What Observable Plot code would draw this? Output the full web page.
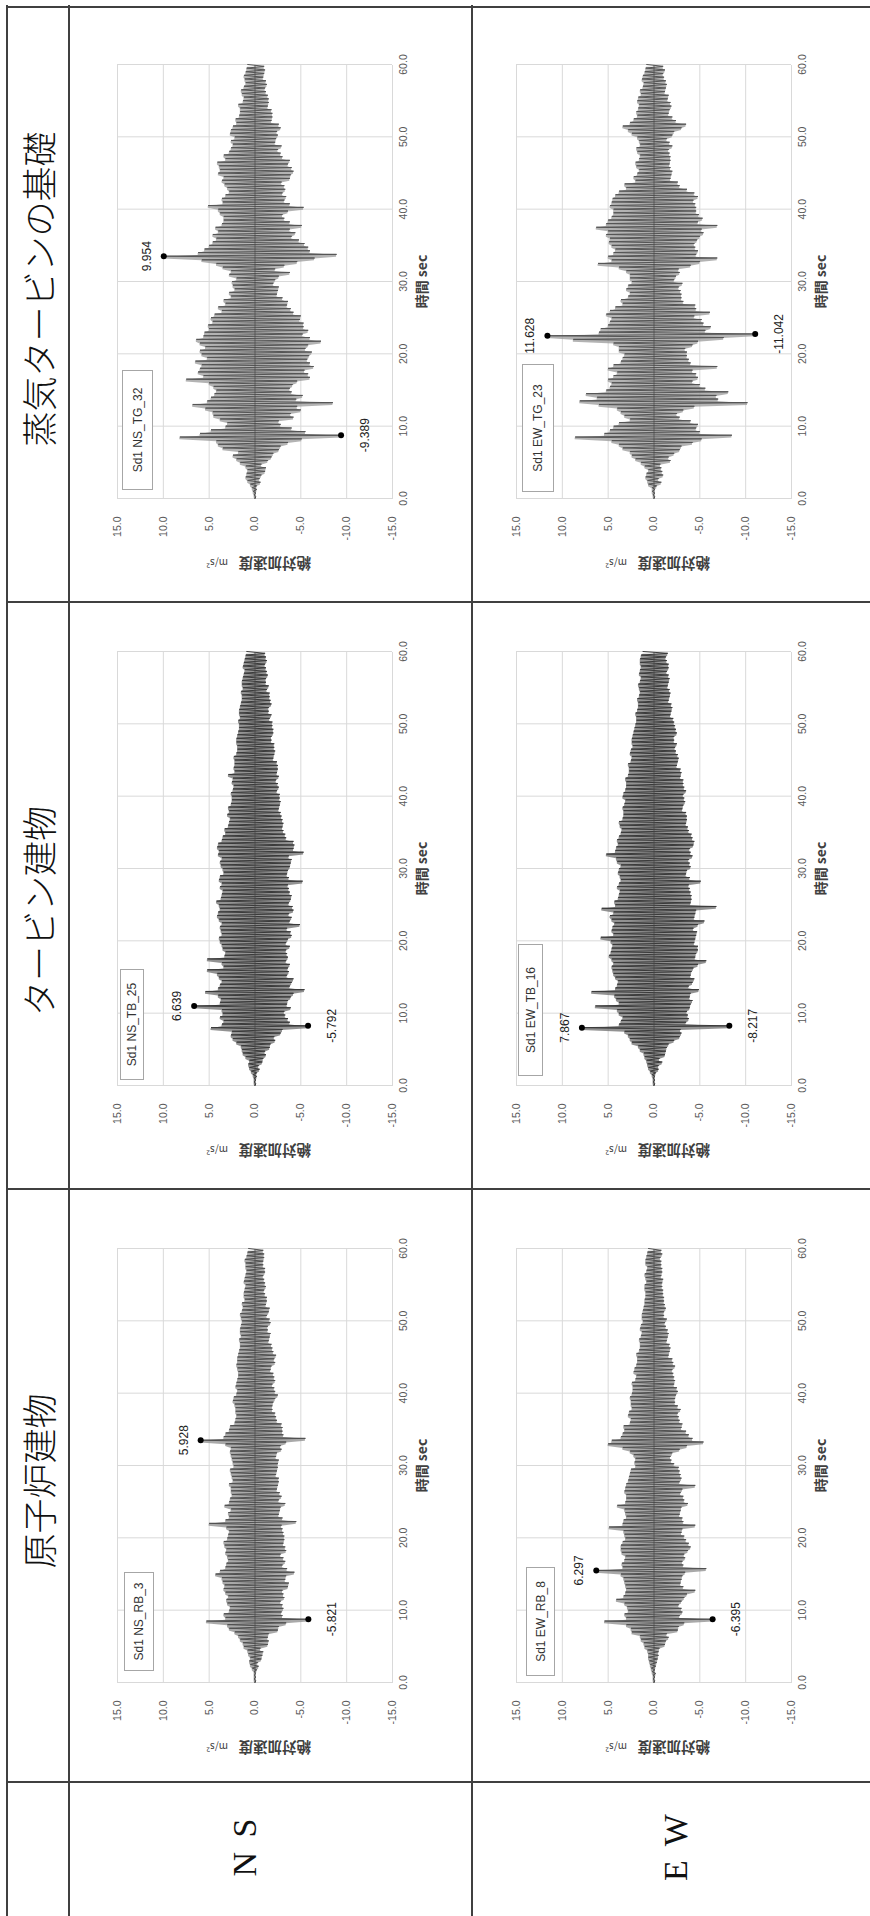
<!DOCTYPE html>
<html><head><meta charset="utf-8">
<script src="https://cdn.jsdelivr.net/npm/d3@7"></script>
<script src="https://cdn.jsdelivr.net/npm/@observablehq/plot@0.6"></script>
<style>
html,body{margin:0;padding:0;background:#fff;}
#page{position:relative;width:870px;height:1916px;overflow:hidden;background:#fff;}
#sheet{position:absolute;left:0;top:0;width:1916px;height:870px;transform-origin:0 0;transform:translate(0px,1916px) rotate(-90deg);}
.hl{position:absolute;height:2px;background:#404040;}
.vl{position:absolute;width:2px;background:#404040;}
.hdr{position:absolute;text-align:center;font-family:"Noto Sans CJK JP";font-weight:300;font-size:35px;color:#111;white-space:nowrap;}
.dir{position:absolute;text-align:center;font-family:"Liberation Serif";font-size:34px;letter-spacing:3px;color:#111;white-space:nowrap;}
.chart{position:absolute;}
.legend{position:absolute;box-sizing:border-box;border:1px solid #a6a6a6;background:#fff;font-family:"Liberation Sans","Noto Sans CJK JP";font-size:12px;color:#333;display:flex;align-items:center;justify-content:center;white-space:nowrap;}
</style></head>
<body>
<div id="page"><div id="sheet"></div></div>
<script>
// ---- data (sample interval 0.25 s, absolute acceleration m/s^2) ----
const DT = 0.25;
const timeTicks = [0, 10, 20, 30, 40, 50, 60];
const accTicks = [15, 10, 5, 0, -5, -10, -15];
const colHeaders = ["原子炉建物", "タービン建物", "蒸気タービンの基礎"];
const rowHeaders = ["N S", "E W"];
const seriesNames = ["Sd1 NS_TG_32", "Sd1 EW_TG_23", "Sd1 NS_TB_25", "Sd1 EW_TB_16", "Sd1 NS_RB_3", "Sd1 EW_RB_8"];

const nsTG = [0,-0.1,0.1,-0.1, 0.2,-0.2,0.3,-0.2, 0.5,-0.6,0.8,-0.5, 1.0,-0.7,0.9,-1.1, 0.8,-1.2,1.0,-0.7,
 1.6,-1.4,2.0,-1.8, 2.4,-2.0,1.8,-2.6, 3.5,-2.8,4.0,-3.6, 4.2,-5.1,8.2,-9.389, 6.0,-5.5,4.8,-4.0,
 3.2,-2.8,3.0,-2.6, 3.8,-4.2,4.5,-3.9, 4.6,-5.0,5.4,-4.6, 6.8,-8.5,5.2,-4.5, 4.8,-5.2,4.4,-4.0,
 4.2,-3.8,4.5,-4.1, 5.0,-4.6,7.5,-6.0, 5.6,-5.8,6.2,-5.4, 6.0,-6.4,5.8,-6.0, 6.5,-5.7,5.2,-5.9,
 5.8,-6.2,6.0,-5.5, 5.4,-5.8,6.0,-7.2, 6.4,-6.0,5.6,-5.2, 5.5,-5.8,5.0,-5.3, 5.1,-5.3,4.6,-4.9,
 4.8,-5.0,4.4,-4.2, 3.6,-3.9,4.0,-3.5, 3.2,-3.6,3.4,-3.0, 2.6,-2.4,2.8,-2.5, 2.2,-2.6,2.4,-2.0,
 2.5,-2.2,2.0,-2.6, 2.8,-3.8,2.6,-2.2, 3.5,-3.2,4.2,-4.6, 5.8,-6.5,9.954,-8.9, 6.2,-6.0,5.5,-5.8,
 5.0,-5.4,4.6,-4.8, 4.2,-4.0,4.6,-4.4, 4.0,-3.8,4.3,-5.1, 3.6,-3.8,3.4,-3.2, 3.4,-3.0,3.8,-3.6,
 4.0,-5.3,5.1,-3.8, 3.5,-3.2,3.6,-3.4, 3.2,-3.0,2.8,-3.3, 3.0,-3.2,3.3,-2.9, 3.6,-3.8,3.4,-3.9,
 4.0,-4.2,3.8,-4.0, 3.9,-3.6,4.1,-3.8, 3.2,-3.0,3.4,-2.8, 2.8,-2.5,2.6,-2.9, 2.4,-2.2,2.6,-2.3,
 2.2,-2.5,2.7,-2.4, 2.6,-2.8,2.4,-2.6, 2.0,-1.8,2.1,-1.9, 1.7,-1.9,1.6,-1.8, 1.6,-1.4,1.8,-1.5,
 1.3,-1.5,1.2,-1.4, 1.4,-1.2,1.5,-1.1, 1.2,-1.3,1.0,-1.2, 1.1,-0.9,1.2,-1.0, 1.0,-1.1,0.9,-1.0,
 0.8];

const ewTG = [0,-0.1,0.1,-0.1, 0.2,-0.1,0.2,-0.3, 0.6,-0.8,0.7,-0.5, 0.9,-1.0,0.8,-0.9, 0.6,-0.8,1.0,-0.7,
 1.4,-1.8,2.0,-1.6, 2.4,-2.2,2.6,-2.8, 3.4,-3.0,3.8,-4.2, 4.6,-5.2,8.6,-8.5, 5.4,-5.0,4.8,-4.6,
 4.4,-4.8,3.8,-4.0, 2.6,-2.8,3.2,-2.5, 3.6,-3.2,4.0,-4.4, 6.0,-10.2,8.1,-7.0, 6.2,-6.8,7.4,-8.1,
 5.2,-5.6,4.8,-5.0, 4.6,-4.2,5.0,-4.8, 4.4,-4.6,4.0,-4.2, 5.0,-6.9,4.4,-4.0, 3.6,-3.8,3.4,-3.6,
 3.2,-3.6,3.8,-3.4, 3.8,-4.2,4.4,-4.8, 8.8,-7.6,11.628,-11.042, 6.0,-5.6,5.8,-6.2, 5.0,-5.4,4.8,-5.2,
 4.6,-4.4,5.2,-6.1, 4.8,-4.6,4.2,-4.5, 3.4,-3.2,3.6,-3.0, 2.8,-3.0,2.6,-2.9, 3.0,-2.7,2.8,-3.1,
 2.4,-2.2,2.6,-2.4, 2.6,-2.8,3.0,-2.7, 3.8,-4.0,6.1,-5.0, 4.6,-6.9,5.0,-4.6, 4.4,-4.8,4.2,-4.5,
 4.6,-4.4,4.9,-4.7, 4.8,-5.0,5.2,-5.4, 5.0,-5.2,6.3,-6.9, 5.2,-4.8,5.0,-5.3, 4.6,-4.9,4.4,-4.6,
 4.4,-4.6,4.8,-4.5, 4.6,-4.3,4.5,-4.8, 4.2,-4.4,3.8,-3.6, 3.0,-2.8,3.2,-2.6, 2.0,-1.8,2.2,-1.9,
 1.8,-2.0,1.6,-1.8, 1.9,-1.7,2.0,-1.8, 1.6,-1.8,1.5,-1.7, 1.8,-1.6,1.9,-2.0, 1.5,-1.7,1.6,-1.4,
 1.8,-2.0,2.4,-2.2, 2.8,-3.0,3.4,-3.5, 2.6,-2.4,2.2,-2.0, 1.8,-1.6,1.9,-1.7, 1.7,-1.9,1.6,-1.8,
 1.8,-1.5,1.7,-1.6, 1.4,-1.2,1.5,-1.3, 1.2,-1.4,1.1,-1.3, 1.3,-1.1,1.2,-1.0, 1.0,-1.2,0.9,-1.0,
 0.8];

const nsTB = [0,-0.1,0.1,-0.1, 0.1,-0.2,0.2,-0.2, 0.4,-0.5,0.6,-0.4, 0.7,-0.8,0.6,-0.9, 1.0,-1.2,1.3,-1.1,
 1.4,-1.6,1.5,-1.7, 2.0,-2.2,2.4,-2.1, 2.6,-2.8,2.5,-3.0, 4.8,-5.792,3.6,-3.8, 3.4,-3.6,3.8,-3.3,
 3.5,-3.2,3.6,-3.9, 6.639,-3.5,3.8,-3.6, 3.7,-3.9,4.0,-4.2, 5.4,-5.4,4.0,-3.8, 3.8,-4.0,3.6,-4.2,
 3.9,-3.5,4.1,-3.7, 5.2,-3.6,3.4,-3.8, 3.6,-3.4,5.2,-3.6, 3.3,-3.5,3.2,-3.4, 3.5,-3.8,3.6,-3.4,
 3.8,-3.6,3.9,-4.0, 3.6,-3.9,3.7,-3.5, 3.8,-4.9,3.6,-3.8, 3.9,-4.0,4.1,-3.7, 4.0,-4.2,3.8,-4.1,
 3.9,-3.7,4.2,-3.9, 3.7,-4.0,3.6,-3.8, 3.5,-3.7,3.8,-3.6, 3.6,-5.2,3.9,-3.7, 3.8,-3.5,3.4,-3.6,
 3.5,-3.8,3.7,-3.9, 3.8,-4.0,3.6,-3.7, 4.0,-5.3,3.9,-4.2, 4.1,-4.3,4.0,-4.2, 3.6,-3.4,3.5,-3.3,
 3.2,-3.1,3.3,-3.0, 2.9,-3.1,2.8,-3.0, 2.7,-2.9,3.0,-2.8, 2.8,-2.6,2.9,-2.7, 2.6,-2.8,2.5,-2.7,
 2.5,-2.7,2.6,-2.4, 2.4,-2.6,2.3,-2.5, 2.5,-2.3,2.4,-2.6, 2.9,-2.4,2.2,-2.5, 2.3,-2.5,2.2,-2.4,
 2.2,-2.0,2.3,-2.1, 2.0,-2.2,1.9,-2.1, 1.9,-2.1,2.0,-1.8, 2.0,-1.8,1.9,-2.0, 1.8,-2.0,1.7,-1.9,
 1.7,-1.9,1.8,-1.6, 1.6,-1.8,1.7,-1.5, 1.7,-1.5,1.6,-1.8, 1.5,-1.7,1.4,-1.6, 1.4,-1.6,1.5,-1.3,
 1.3,-1.5,1.4,-1.2, 1.4,-1.2,1.3,-1.4, 1.2,-1.3,1.1,-1.2, 1.3,-1.1,1.2,-1.3, 1.1,-1.2,1.0,-1.1,
 0.9];

const ewTB = [0,-0.1,0.1,-0.1, 0.1,-0.1,0.2,-0.2, 0.4,-0.5,0.6,-0.5, 0.7,-0.9,0.8,-0.6, 1.0,-1.2,1.1,-1.3,
 1.5,-1.4,1.7,-1.6, 2.4,-2.2,2.6,-2.8, 2.8,-3.0,3.2,-2.9, 7.867,-8.217,3.8,-3.5, 3.6,-3.8,3.4,-3.7,
 3.8,-3.6,4.0,-3.9, 6.4,-4.0,3.8,-4.2, 4.1,-3.9,4.3,-4.0, 6.8,-4.9,4.2,-3.8, 4.0,-4.2,3.9,-4.4,
 4.2,-4.0,4.4,-4.1, 4.5,-4.3,4.6,-4.8, 4.4,-5.7,4.6,-4.5, 4.9,-4.6,4.7,-4.8, 4.6,-4.8,4.5,-4.4,
 4.7,-4.5,5.8,-4.6, 4.4,-4.7,4.6,-4.3, 4.5,-4.8,4.3,-5.5, 4.6,-4.4,4.8,-4.5, 4.4,-4.6,5.7,-6.8,
 4.2,-4.0,4.3,-4.1, 3.9,-4.1,3.8,-4.0, 3.7,-3.9,4.0,-3.8, 3.8,-5.1,3.6,-3.9, 3.7,-3.5,3.9,-3.6,
 3.8,-4.0,3.6,-3.9, 4.0,-3.8,4.1,-4.2, 5.2,-4.0,4.2,-3.9, 4.1,-4.3,3.9,-4.4, 4.0,-4.2,3.8,-4.1,
 3.6,-3.8,3.5,-3.7, 3.7,-3.5,3.8,-3.6, 3.4,-3.6,3.3,-3.5, 3.3,-3.1,3.4,-3.2, 3.2,-3.4,3.1,-3.3,
 3.4,-3.2,3.3,-3.5, 3.1,-3.3,3.0,-3.2, 3.0,-3.2,3.1,-2.9, 2.8,-3.0,2.7,-2.9, 2.7,-2.5,2.8,-2.6,
 2.5,-2.7,2.4,-2.6, 2.6,-2.4,2.5,-2.3, 2.3,-2.5,2.4,-2.2, 2.4,-2.2,2.3,-2.5, 2.2,-2.4,2.1,-2.3,
 2.0,-2.2,1.9,-2.1, 1.9,-1.8,2.0,-1.9, 1.8,-2.0,1.7,-1.9, 1.7,-1.6,1.8,-1.7, 1.6,-1.8,1.5,-1.7,
 1.6,-1.5,1.7,-1.6, 1.5,-1.7,1.4,-1.6, 1.6,-1.4,1.5,-1.6, 1.4,-1.6,1.5,-1.4, 1.5,-1.3,1.4,-1.5,
 1.2];

const nsRB = [0,-0.1,0.1,-0.1, 0.1,-0.1,0.1,-0.2, 0.3,-0.4,0.5,-0.3, 0.6,-0.7,0.5,-0.8, 0.7,-0.9,0.8,-0.6,
 1.2,-1.4,1.3,-1.5, 1.6,-1.4,1.8,-1.5, 2.2,-2.5,2.8,-2.6, 3.0,-3.4,5.3,-5.821, 3.2,-3.0,3.4,-2.9,
 2.8,-3.1,2.7,-3.0, 3.0,-2.8,3.1,-3.2, 2.9,-3.1,3.2,-3.0, 3.4,-3.6,3.3,-3.7, 3.5,-3.3,3.6,-3.4,
 4.3,-4.3,3.8,-3.5, 3.2,-3.0,3.1,-3.3, 2.9,-3.1,3.0,-2.8, 3.2,-3.4,3.1,-3.3, 3.3,-3.1,3.4,-3.2,
 3.0,-3.2,2.9,-3.1, 2.8,-3.0,3.1,-2.9, 5.0,-4.5,3.2,-3.0, 2.8,-2.6,2.9,-2.7, 2.6,-2.8,3.3,-3.3,
 2.8,-2.6,2.7,-2.9, 2.5,-2.7,2.6,-2.4, 2.6,-2.5,2.8,-2.6, 2.4,-2.6,2.5,-2.3, 2.6,-2.4,2.7,-2.5,
 2.3,-2.5,2.4,-2.6, 2.5,-2.3,2.6,-2.4, 2.7,-2.9,2.6,-2.8, 3.2,-3.4,5.928,-5.5, 3.4,-3.1,3.2,-3.0,
 2.8,-3.0,2.7,-2.9, 2.2,-2.4,2.1,-2.3, 2.0,-2.2,2.1,-1.9, 2.1,-1.9,2.2,-2.0, 2.4,-2.2,2.3,-2.5,
 2.0,-2.2,1.9,-2.1, 2.1,-1.9,2.0,-2.2, 1.9,-2.1,1.8,-2.0, 1.8,-1.7,1.9,-1.8, 2.0,-2.2,1.9,-2.1,
 1.9,-2.3,1.8,-2.0, 1.7,-1.9,1.6,-1.8, 1.6,-1.5,1.7,-1.6, 1.5,-1.7,1.6,-1.4, 1.6,-1.4,1.5,-1.7,
 1.4,-1.6,1.5,-1.3, 1.6,-1.5,1.4,-1.6, 1.3,-1.2,1.4,-1.3, 1.1,-1.3,1.2,-1.1, 1.2,-1.0,1.1,-1.2,
 1.0,-1.1,1.2,-1.0, 1.1,-0.9,1.0,-1.1, 0.9,-1.1,1.0,-0.9, 1.0,-0.9,1.1,-1.0, 0.9,-1.0,0.8,-0.9,
 0.7];

const ewRB = [0,-0.1,0.1,-0.1, 0.1,-0.2,0.2,-0.1, 0.3,-0.2,0.4,-0.3, 0.5,-0.4,0.6,-0.5, 0.6,-0.5,0.7,-0.6,
 1.0,-1.2,1.1,-1.3, 1.4,-1.6,1.5,-1.4, 2.4,-2.6,2.5,-2.7, 3.0,-3.3,5.4,-6.395, 3.0,-2.8,3.2,-3.1,
 2.8,-3.0,2.9,-2.7, 3.2,-3.0,4.1,-3.3, 3.3,-3.6,3.1,-4.5, 3.0,-3.2,3.1,-2.9, 3.2,-3.0,3.3,-3.1,
 3.6,-3.4,6.297,-5.7, 3.4,-3.2,3.5,-3.1, 3.2,-3.4,3.1,-3.3, 3.5,-3.7,3.6,-4.0, 3.6,-3.8,3.4,-3.5,
 3.1,-3.3,3.2,-3.0, 3.3,-3.1,4.9,-4.5, 3.4,-3.2,3.3,-3.1, 3.0,-2.8,3.1,-2.9, 3.2,-3.0,4.0,-3.7,
 3.1,-3.3,3.0,-3.2, 3.0,-2.9,3.2,-3.1, 3.1,-4.5,3.0,-2.8, 2.8,-3.0,2.7,-2.9, 2.6,-2.8,2.5,-2.7,
 2.0,-2.2,2.1,-1.9, 2.0,-1.8,2.2,-2.0, 2.6,-2.8,3.4,-3.6, 5.0,-5.4,4.6,-4.2, 3.6,-3.8,3.4,-3.5,
 3.2,-3.0,3.3,-3.1, 2.6,-2.8,2.5,-2.7, 2.8,-2.6,2.7,-2.9, 2.4,-2.6,2.5,-2.3, 2.5,-2.3,2.6,-2.4,
 2.4,-2.6,2.3,-2.5, 2.3,-2.2,2.4,-2.3, 2.0,-2.2,1.9,-2.1, 2.2,-2.0,2.1,-2.3, 1.9,-2.1,1.8,-2.0,
 1.8,-1.6,1.9,-1.7, 1.6,-1.8,1.5,-1.7, 1.5,-1.4,1.6,-1.5, 1.4,-1.6,1.3,-1.5, 1.5,-1.3,1.4,-1.2,
 1.2,-1.4,1.3,-1.1, 1.3,-1.1,1.2,-1.3, 1.1,-1.2,1.0,-1.1, 1.0,-1.1,0.9,-1.0, 0.9,-1.0,1.0,-0.9,
 1.0,-0.9,0.8,-1.0, 0.9,-0.8,1.0,-0.9, 0.8,-0.9,0.7,-0.8, 0.9,-0.8,0.9,-0.7, 0.8,-0.9,0.7,-0.8,
 0.6];

// ---- layout (sheet drawn landscape, then rotated -90deg) ----
const sheet = document.getElementById("sheet");
function add(cls, css, text) {
  const d = document.createElement("div");
  d.className = cls;
  Object.assign(d.style, css);
  if (text != null) d.textContent = text;
  sheet.append(d);
  return d;
}
// table lines
[6, 68, 471].forEach(v => add("hl", {left: "-10px", width: "1921px", top: v + "px"}));
[133, 726, 1313, 1908].forEach(u => add("vl", {left: u + "px", top: "6px", height: "880px"}));
// column headers
const hdrCenters = [435, 1005, 1627];
colHeaders.forEach((t, i) => add("hdr", {left: (hdrCenters[i] - 300) + "px", width: "600px", top: "7px", height: "62px", lineHeight: "62px"}, t));
// row headers
const rowCenters = [245, 676];
rowHeaders.forEach((t, i) => add("dir", {left: "3px", width: "134px", top: (rowCenters[i] - 25) + "px", height: "50px", lineHeight: "50px"}, t));

// charts
const W = 434, H = 275, ML = 90, MR = 30, MT = 12, MB = 50;
const charts = [
  {values: nsTG, name: seriesNames[0], u0: 1417, v0: 117, leg: [9, 120, 5, 31], ink: "#555555", band: "#9a9a9a"},
  {values: ewTG, name: seriesNames[1], u0: 1417, v0: 516, leg: [7, 128, 6, 32], ink: "#555555", band: "#9a9a9a"},
  {values: nsTB, name: seriesNames[2], u0: 830, v0: 117, leg: [6, 111, 3, 24], ink: "#3a3a3a", band: "#6e6e6e"},
  {values: ewTB, name: seriesNames[3], u0: 830, v0: 516, leg: [10, 132, 2, 25], ink: "#3a3a3a", band: "#6e6e6e"},
  {values: nsRB, name: seriesNames[4], u0: 233, v0: 117, leg: [12, 99, 7, 30], ink: "#505050", band: "#8c8c8c"},
  {values: ewRB, name: seriesNames[5], u0: 233, v0: 516, leg: [7, 109, 10, 29], ink: "#505050", band: "#8c8c8c"}
];
const fmt1 = d => d.toFixed(1);
for (const c of charts) {
  const series = c.values.map((a, i) => ({t: i * DT, a}));
  // min/max of each pair of neighbouring samples (envelope band of the record)
  const band = series.slice(0, -1).map((d, i) => ({t: d.t, lo: Math.min(d.a, series[i + 1].a), hi: Math.max(d.a, series[i + 1].a)}));
  const hi = [series[d3.maxIndex(c.values)]];
  const lo = [series[d3.minIndex(c.values)]];
  const svg = Plot.plot({
    width: ML + W + MR, height: MT + H + MB,
    marginLeft: ML, marginRight: MR, marginTop: MT, marginBottom: MB,
    x: {domain: [0, 60], ticks: timeTicks, tickFormat: fmt1, tickSize: 0, tickPadding: 7, label: null},
    y: {domain: [-15, 15], ticks: accTicks, tickFormat: fmt1, tickSize: 0, tickPadding: 18, label: null},
    style: {fontFamily: "'Liberation Sans','Noto Sans CJK JP',sans-serif", fontSize: "10.5px", color: "#595959", background: "transparent", overflow: "visible"},
    marks: [
      Plot.ruleX(timeTicks, {x: d => d, stroke: "#d9d9d9", strokeWidth: 1}),
      Plot.ruleY(accTicks, {y: d => d, stroke: "#d9d9d9", strokeWidth: 1}),
      Plot.areaY(band, {x: "t", y1: "lo", y2: "hi", fill: c.band, fillOpacity: 0.75}),
      Plot.line(series, {x: "t", y: "a", stroke: c.ink, strokeWidth: 1.0}),
      Plot.ruleY([0], {stroke: "#444", strokeOpacity: 0.6, strokeWidth: 1}),
      Plot.dot(hi.concat(lo), {x: "t", y: "a", r: 3, fill: "#000", stroke: "none"}),
      Plot.text(hi, {x: "t", y: "a", text: d => d.a.toFixed(3), dy: -17, fontSize: 12, fill: "#222"}),
      Plot.text(lo, {x: "t", y: "a", text: d => d.a.toFixed(3), dy: 24, fontSize: 12, fill: "#222"}),
      Plot.text(["時間 sec"], {frameAnchor: "bottom", text: d => d, dy: 34, fontSize: 14, fontWeight: "bold", fill: "#404040", fontFamily: "'Noto Sans CJK JP',sans-serif"}),
      Plot.text(["絶対加速度"], {frameAnchor: "left", text: d => d, dx: -64, dy: 56, rotate: -90, textAnchor: "start", fontSize: 14.5, fontWeight: "bold", fill: "#404040", fontFamily: "'Noto Sans CJK JP',sans-serif"}),
      Plot.text(["m/s²"], {frameAnchor: "left", text: d => d, dx: -64, dy: -27, rotate: -90, textAnchor: "start", fontSize: 10, fill: "#404040", fontFamily: "'Noto Sans CJK JP',sans-serif"})
    ]
  });
  const wrap = add("chart", {left: (c.u0 - ML) + "px", top: (c.v0 - MT) + "px"});
  wrap.append(svg);
  const [gap, len, off, w] = c.leg;
  add("legend", {left: (c.u0 + gap) + "px", top: (c.v0 + off) + "px", width: len + "px", height: w + "px"}, c.name);
}
</script>
</body></html>
